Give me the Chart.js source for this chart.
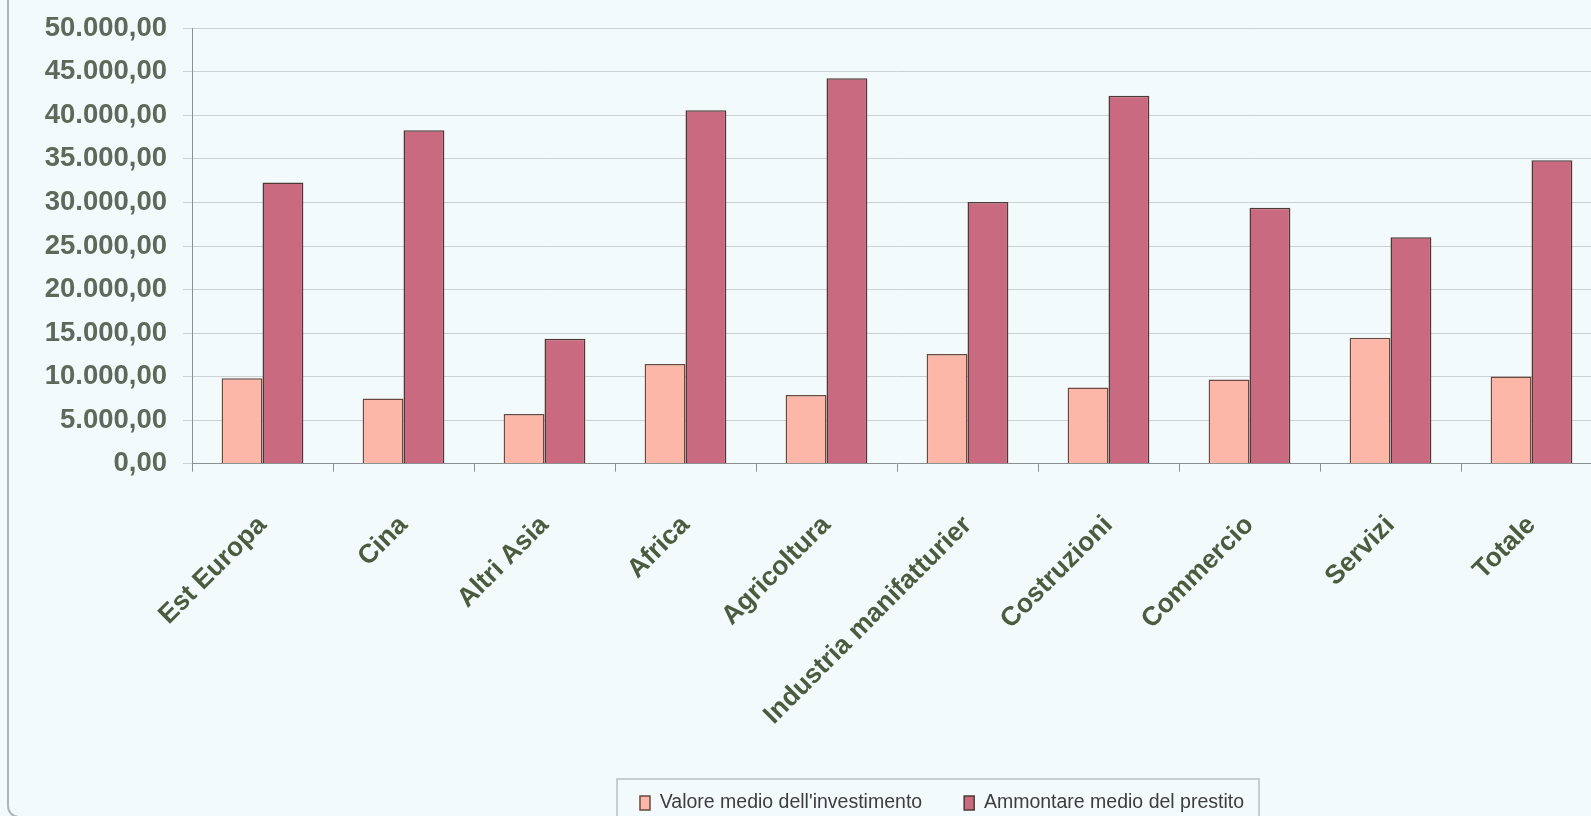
<!DOCTYPE html>
<html><head><meta charset="utf-8">
<script src="https://cdn.jsdelivr.net/npm/chart.js@4.4.1/dist/chart.umd.min.js"></script>
<style>
html,body{margin:0;padding:0;background:#f3fafc;overflow:hidden;width:1591px;height:816px;}
#wrap{position:relative;width:1591px;height:816px;overflow:hidden;background:#f3fafc;}
#frame{position:absolute;left:7px;top:-30px;width:2000px;height:848px;border:2px solid #aeb6ba;border-radius:12px;box-sizing:border-box;}
canvas{position:absolute;left:0;top:0;}
</style></head><body>
<div id="wrap"><div id="frame"></div><canvas id="c" width="1884" height="816"></canvas></div>
<script>
// ---- data ----
const categories = ['Est Europa','Cina','Altri Asia','Africa','Agricoltura','Industria manifatturier','Costruzioni','Commercio','Servizi','Totale'];
const valoreMedioInvestimento = [9820, 7500, 5710, 11460, 7900, 12600, 8750, 9670, 14470, 10000];
const ammontareMedioPrestito = [32300, 38300, 14350, 40600, 44250, 30050, 42250, 29400, 26000, 34850];
const seriesNames = ["Valore medio dell'investimento", 'Ammontare medio del prestito'];
const yTickValues = [0, 5000, 10000, 15000, 20000, 25000, 30000, 35000, 40000, 45000, 50000];
const yTickLabels = ['0,00','5.000,00','10.000,00','15.000,00','20.000,00','25.000,00','30.000,00','35.000,00','40.000,00','45.000,00','50.000,00'];

function hasFont(name){
  const c=document.createElement('canvas').getContext('2d');
  const s='abcdefghijklmnopqrstuvwxyz0123456789';
  c.font='40px monospace'; const a=c.measureText(s).width;
  c.font='40px "'+name+'", monospace'; const b=c.measureText(s).width;
  return Math.abs(a-b)>1;
}
const narrow = hasFont('Liberation Sans Narrow');
const F = narrow
  ? {family:'"Liberation Sans Narrow", "Liberation Sans", Arial, sans-serif', y:31, x:30, lg:23.5}
  : {family:'"Liberation Sans", Arial, sans-serif', y:27.5, x:26.5, lg:19.5};

const legendPad = 42;
const padB = 3 - F.lg/2;
const legendH = F.lg + legendPad + 10;
const xAxisH = (816 - padB) - legendH - 463.7;

const legendFrame = {
  id:'legendFrame',
  afterDraw(chart){
    const hb = chart.legend && chart.legend.legendHitBoxes;
    if(!hb || !hb.length) return;
    const ctx = chart.ctx;
    const first = hb[0], last = hb[hb.length-1];
    const l = first.left - 23, r = last.left + last.width + 15;
    const t = first.top + first.height/2 - 24;
    ctx.save();
    ctx.strokeStyle = '#b9c0c2';
    ctx.lineWidth = 1.5;
    ctx.strokeRect(l, t, r - l, chart.height - t + 20);
    ctx.restore();
  }
};

new Chart(document.getElementById('c'), {
  type:'bar',
  data:{
    labels: categories,
    datasets:[
      {label: seriesNames[0], data: valoreMedioInvestimento, backgroundColor:'#fcb7a8', borderColor:'#6a4a40', borderWidth:1.5},
      {label: seriesNames[1], data: ammontareMedioPrestito, backgroundColor:'#c96a80', borderColor:'#4d3a36', borderWidth:1.5}
    ]
  },
  options:{
    responsive:false,
    animation:false,
    devicePixelRatio:1,
    datasets:{bar:{categoryPercentage:0.58, barPercentage:1.0}},
    layout:{padding:{left:0, right:0, top:28.3, bottom:padB}},
    plugins:{
      tooltip:{enabled:false},
      legend:{
        position:'bottom',
        align:'center',
        labels:{
          boxWidth:10, boxHeight:14, padding:legendPad,
          color:'#3d3d3d',
          font:{family:F.family, size:F.lg}
        }
      }
    },
    scales:{
      x:{
        grid:{offset:true, drawOnChartArea:false, drawTicks:true, tickLength:8, color:'#8c9190'},
        border:{color:'#8c9190', width:1},
        ticks:{autoSkip:false, minRotation:45, maxRotation:45, padding:38, color:'#4b5c3e',
               font:{family:F.family, size:F.x, weight:'bold'}},
        afterFit(s){ s.height = xAxisH; }
      },
      y:{
        min: yTickValues[0], max: yTickValues[yTickValues.length-1],
        afterBuildTicks(s){ s.ticks = yTickValues.map(v=>({value:v})); },
        grid:{color:'#ccd2d3', lineWidth:1, tickLength:9},
        border:{color:'#8c9190', width:1},
        ticks:{padding:16, color:'#5e695a', font:{family:F.family, size:F.y, weight:'bold'},
               callback:(v,i)=> yTickLabels[yTickValues.indexOf(v)]},
        afterFit(s){ s.width = 192; s.paddingTop = 0; s.paddingBottom = 0; }
      },
      y2:{
        type:'linear', position:'right', display:true, min:0, max:1,
        grid:{display:false, drawTicks:false}, border:{display:false},
        ticks:{display:false},
        afterFit(s){ s.width = 282; s.paddingTop = 0; s.paddingBottom = 0; }
      }
    }
  },
  plugins:[legendFrame]
});
</script>
</body></html>
